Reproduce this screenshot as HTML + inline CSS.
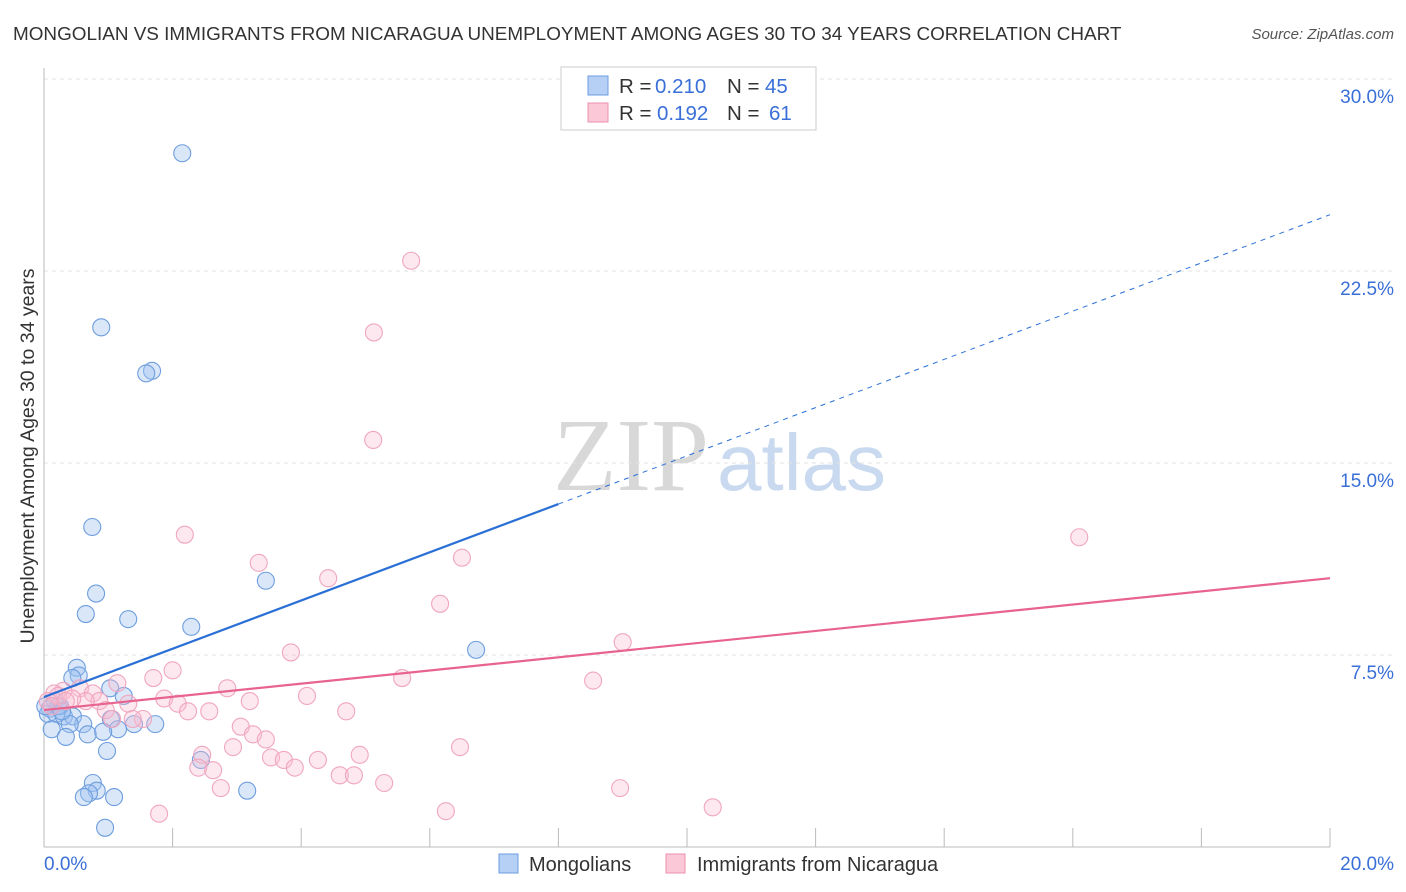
<!DOCTYPE html>
<html><head><meta charset="utf-8"><style>
body{margin:0;background:#fff;font-family:"Liberation Sans",sans-serif;}
svg{display:block}
</style></head><body>
<svg width="1406" height="892" xmlns="http://www.w3.org/2000/svg">
<text x="13" y="40" font-size="18.9" fill="#333">MONGOLIAN VS IMMIGRANTS FROM NICARAGUA UNEMPLOYMENT AMONG AGES 30 TO 34 YEARS CORRELATION CHART</text>
<text x="1394" y="39" font-size="15" fill="#555" font-style="italic" text-anchor="end">Source: ZipAtlas.com</text>
<g>
<text x="553" y="490" font-size="104" font-family="Liberation Serif,serif" fill="#d8d8d8">ZIP</text>
<text x="717" y="490" font-size="80" fill="#c9d9ef">atlas</text>
</g>
<g id="grid"></g>
<line x1="44" y1="68" x2="44" y2="847" stroke="#bbb"/>
<line x1="44" y1="847" x2="1330" y2="847" stroke="#bbb"/>
<g id="ticks"></g>
<text x="34" y="456" font-size="19.5" fill="#333" transform="rotate(-90 34 456)" text-anchor="middle">Unemployment Among Ages 30 to 34 years</text>
<text x="44" y="870" font-size="19" fill="#3a6fd8">0.0%</text>
<text x="1394" y="870" font-size="19" fill="#3a6fd8" text-anchor="end">20.0%</text>
<g id="marks"></g>
<g>
<rect x="561" y="67" width="255" height="63" fill="#fff" stroke="#ccc"/>
<rect x="588" y="76" width="20" height="19" fill="#b5d0f4" stroke="#6b9be0"/>
<rect x="588" y="103" width="20" height="19" fill="#fbc8d7" stroke="#ee8fae"/>
<text y="93" font-size="20.5" fill="#333"><tspan x="619">R =</tspan><tspan x="655" fill="#3a6fd8">0.210</tspan><tspan x="727">N =</tspan><tspan x="765" fill="#3a6fd8">45</tspan></text>
<text y="120" font-size="20.5" fill="#333"><tspan x="619">R =</tspan><tspan x="657" fill="#3a6fd8">0.192</tspan><tspan x="727">N =</tspan><tspan x="769" fill="#3a6fd8">61</tspan></text>
</g>
<g>
<rect x="499" y="854" width="19" height="19" fill="#b5d0f4" stroke="#6b9be0"/>
<text x="529" y="871" font-size="20" fill="#333">Mongolians</text>
<rect x="666" y="854" width="19" height="19" fill="#fbc8d7" stroke="#ee8fae"/>
<text x="697" y="871" font-size="20" fill="#333">Immigrants from Nicaragua</text>
</g>
</svg>
<script>
const yTicks=[7.5,15,22.5,30];
const yTickLabels=["7.5%","15.0%","22.5%","30.0%"];
const xTicks=[2,4,6,8,10,12,14,16,18,20];
const blueX=[2.15,0.89,1.68,1.59,0.75,3.45,0.81,0.65,1.31,2.29,6.72,0.51,0.54,0.44,1.03,1.24,0.17,0.25,0.09,0.06,0.19,0.31,0.45,1.04,0.61,0.40,1.73,1.40,1.15,0.12,0.68,0.92,0.34,0.98,2.44,0.76,0.82,0.70,0.62,1.09,3.16,0.95,0.22,0.28,0.02];
const blueY=[27.1,20.3,18.6,18.5,12.5,10.4,9.9,9.1,8.9,8.6,7.7,7.0,6.7,6.6,6.2,5.9,5.7,5.5,5.4,5.2,5.2,5.1,5.1,5.0,4.8,4.8,4.8,4.8,4.6,4.6,4.4,4.5,4.3,3.75,3.4,2.5,2.2,2.1,1.95,1.95,2.2,0.75,5.5,5.3,5.5];
const pinkX=[5.71,5.13,5.12,16.1,2.19,6.5,3.34,4.42,6.16,9.0,3.84,2.0,5.57,8.54,1.70,2.85,0.56,1.14,0.30,0.76,0.16,4.09,1.87,3.2,2.08,0.86,0.65,0.06,1.31,0.96,2.24,2.57,4.7,1.54,1.38,1.06,3.06,3.25,3.45,2.94,6.47,2.46,4.91,3.53,3.73,4.26,2.4,2.63,3.9,4.6,4.82,5.29,2.75,8.96,10.4,6.25,1.79,0.22,0.44,0.12,0.34];
const pinkY=[22.9,20.1,15.9,12.1,12.2,11.3,11.1,10.5,9.5,8.0,7.6,6.9,6.6,6.5,6.6,6.2,6.2,6.4,6.1,6.0,6.0,5.9,5.8,5.7,5.6,5.7,5.7,5.7,5.6,5.35,5.3,5.3,5.3,5.0,5.0,5.0,4.7,4.4,4.2,3.9,3.9,3.6,3.6,3.5,3.4,3.4,3.1,3.0,3.1,2.8,2.8,2.5,2.3,2.3,1.55,1.4,1.3,5.9,5.8,5.5,5.7];
const blueTrend=[5.86,24.7];
const pinkTrend=[5.35,10.5];
const NS="http://www.w3.org/2000/svg";
const sx=v=>44+v/20*1286;
const sy=v=>847-v*25.6;
function mk(t,a,p){const e=document.createElementNS(NS,t);for(const k in a)e.setAttribute(k,a[k]);p.appendChild(e);return e;}
const grid=document.getElementById('grid'),ticks=document.getElementById('ticks'),marks=document.getElementById('marks');
yTicks.forEach((v,i)=>{
 const l=mk('line',{x1:44,x2:1394,y1:sy(v),y2:sy(v),stroke:'#e2e2e2','stroke-dasharray':'4,4'},grid);
 
 
 const t=mk('text',{x:1394,y:sy(v)+24,'font-size':19,fill:'#3a6fd8','text-anchor':'end'},grid);
 t.textContent=yTickLabels[i];
 
 
});
xTicks.forEach(v=>{
 const l=mk('line',{x1:sx(v),x2:sx(v),y1:828,y2:847,stroke:'#bbb'},ticks);
 
 
});
blueX.forEach((x,i)=>{
 const c=mk('circle',{cx:sx(x),cy:sy(blueY[i]),r:8.5,fill:'rgba(160,195,240,0.4)',stroke:'#6e9ede','stroke-width':1.1},marks);
 
 
});
pinkX.forEach((x,i)=>{
 const c=mk('circle',{cx:sx(x),cy:sy(pinkY[i]),r:8.5,fill:'rgba(250,190,210,0.35)',stroke:'#f0a6bf','stroke-width':1.1},marks);
 
 
});
const bAt=x=>blueTrend[0]+(blueTrend[1]-blueTrend[0])*x/20;
let l1=mk('line',{x1:sx(0),y1:sy(bAt(0)),x2:sx(8),y2:sy(bAt(8)),stroke:'#2a6fd6','stroke-width':2.2},marks);


let l2=mk('line',{x1:sx(8),y1:sy(bAt(8)),x2:sx(20),y2:sy(bAt(20)),stroke:'#2a6fd6','stroke-width':1,'stroke-dasharray':'5,5'},marks);


let l3=mk('line',{x1:sx(0),y1:sy(pinkTrend[0]),x2:sx(20),y2:sy(pinkTrend[1]),stroke:'#e8638e','stroke-width':2.2},marks);


</script>
</body></html>
